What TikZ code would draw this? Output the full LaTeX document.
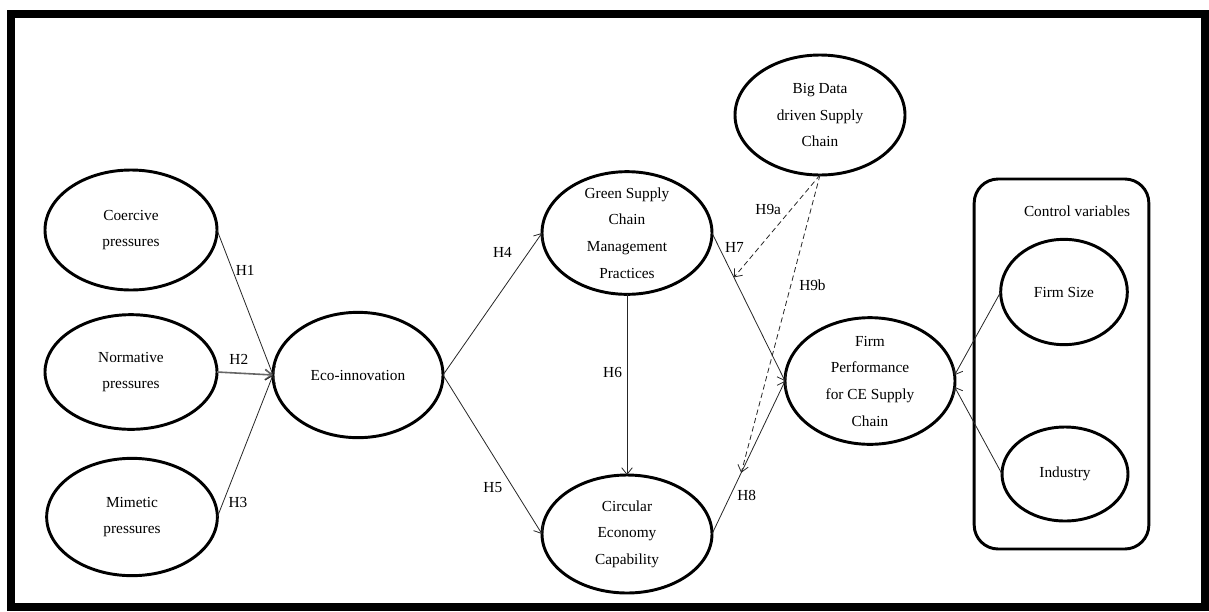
\documentclass[tikz,border=0pt]{standalone}
\usepackage{fontspec}
\setmainfont{Liberation Serif}
\usetikzlibrary{shapes.geometric, arrows.meta, calc}

\tikzset{
  txt/.style={align=center, font=\fontsize{11.5}{20}\selectfont, inner sep=0pt},
  oval/.style={ellipse, draw, line width=2.2pt, inner sep=0pt, outer sep=0pt,
    label={[txt]center:#1}},
  hyp/.style={font=\fontsize{11.5}{14}\selectfont, inner sep=1pt, text=black},
  link/.style={->, line width=0.6pt, black!85},
  moder/.style={->, line width=0.6pt, black!85, dash pattern=on 4pt off 2.5pt},
}

\begin{document}
\begin{tikzpicture}[x=0.75pt, y=-0.75pt, >={Straight Barb[length=5pt, width=8pt]}]

  \useasboundingbox (0,0) rectangle (1209,611);
  % outer frame
  \draw[line width=6pt] (11,14) rectangle (1205,607);

  % ==================== institutional pressures ====================
  \node[oval={Coercive\\pressures}, minimum width=129pt, minimum height=90pt] (coer) at (131,230) {};
  \node[oval={Normative\\pressures}, minimum width=129pt, minimum height=86pt] (norm) at (131,372) {};
  \node[oval={Mimetic\\pressures}, minimum width=128pt, minimum height=88pt] (mimi) at (132,517) {};

  % ==================== mediators ====================
  \node[oval={Eco-innovation}, minimum width=127.5pt, minimum height=94pt] (eco) at (358,375) {};
  \node[oval={Green Supply\\Chain\\Management\\Practices}, minimum width=127.5pt, minimum height=92pt] (gscm) at (627,233) {};
  \node[oval={Circular\\Economy\\Capability}, minimum width=127.5pt, minimum height=88.5pt] (cec) at (627,534) {};

  % ==================== moderator and outcome ====================
  \node[oval={Big Data\\driven Supply\\Chain}, minimum width=127.5pt, minimum height=90pt] (bdsc) at (820,115) {};
  \node[oval={Firm\\Performance\\for CE Supply\\Chain}, minimum width=127.5pt, minimum height=95pt] (firm) at (870,381) {};

  % ==================== control variables ====================
  \node[draw, line width=2.2pt, rounded corners=18pt, minimum width=131pt, minimum height=277.5pt] (ctrl) at (1061.5,364) {};
  \node[txt] (ctrltitle) at (1077,211) {Control variables};
  \node[oval={Firm Size}, minimum width=95pt, minimum height=79pt] (size) at (1064,292) {};
  \node[oval={Industry}, minimum width=94.5pt, minimum height=70.5pt] (ind) at (1065,474) {};

  % ==================== hypotheses ====================
  \draw[link] (coer.east) -- node[hyp, pos=0.28, right=1pt] {H1} (eco.west);
  \draw[link, line width=1.2pt, black!60] (norm.east) -- node[hyp, pos=0.39, above=5pt] {H2} (eco.west);
  \draw[link] (mimi.east) -- node[hyp, pos=0.1, right=3pt] {H3} (eco.west);

  \draw[link] (eco.east) -- node[hyp, pos=0.86, left=11pt] {H4} (gscm.west);
  \draw[link] (eco.east) -- node[hyp, pos=0.71, left=7pt] {H5} (cec.west);
  \draw[link] (gscm.south) -- node[hyp, pos=0.43, left=2.5pt] {H6} (cec.north);
  \draw[link] (gscm.east) -- node[hyp, pos=0.1, right=3pt] {H7} (firm.west);
  \draw[link] (cec.east) -- node[hyp, pos=0.25, right=4pt] {H8} (firm.west);

  % moderating paths end on the H7 / H8 lines
  \coordinate (m7) at ($(gscm.east)!0.3!(firm.west)$);
  \coordinate (m8) at ($(cec.east)!0.4!(firm.west)$);
  \draw[moder] (bdsc.south) -- node[hyp, pos=0.34, left=6pt] {H9a} (m7);
  \draw[moder] (bdsc.south) -- node[hyp, pos=0.37, right=5pt] {H9b} (m8);

  % controls
  \draw[link] (size.west) -- (firm.4);
  \draw[link] (ind.west) -- (firm.-4);

\end{tikzpicture}
\end{document}
